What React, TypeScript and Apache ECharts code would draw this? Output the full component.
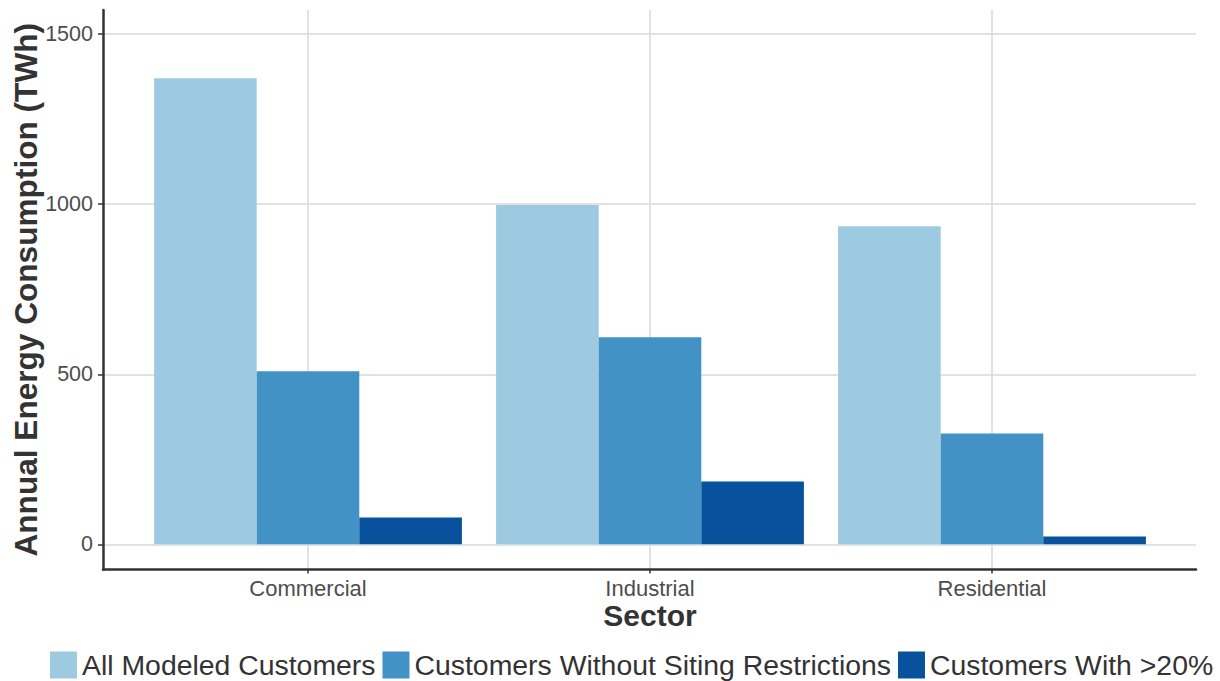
import React, { useEffect, useRef } from "react";
import * as echarts from "echarts";

const categories = ["Commercial", "Industrial", "Residential"];
const seriesNames = [
  "All Modeled Customers",
  "Customers Without Siting Restrictions",
  "Customers With >20%",
];
const allModeled = [1370, 998, 935];
const withoutRestrictions = [509, 609, 326];
const withOver20 = [79, 185, 23];
const yTicks = [0, 500, 1000, 1500];
const colors = ["#9ecae1", "#4292c6", "#08519c"];

const FONT = "'Liberation Sans', Arial, sans-serif";
const Y_MIN = -74;
const Y_MAX = 1571;

export default function App() {
  const ref = useRef<HTMLDivElement>(null);
  useEffect(() => {
    document.body.style.margin = "0";
    const chart = echarts.init(ref.current!, null, { renderer: "svg" });
    const values = [allModeled, withoutRestrictions, withOver20];
    chart.setOption({
      animation: false,
      backgroundColor: "#ffffff",
      textStyle: { fontFamily: FONT },
      grid: [
        { left: 103, right: 24, top: 10, bottom: 111.5, containLabel: false, outerBoundsMode: "none" },
        { left: 137, right: 57, top: 10, bottom: 111.5, containLabel: false, outerBoundsMode: "none" },
      ],
      legend: {
        data: seriesNames,
        left: 50,
        top: 651,
        icon: "rect",
        itemWidth: 27,
        itemHeight: 27,
        itemGap: 7,
        padding: 0,
        textStyle: { fontSize: 28.4, lineHeight: 27, color: "#333333", fontFamily: FONT },
      },
      xAxis: [
        {
          type: "value",
          gridIndex: 0,
          min: 0,
          max: 1,
          axisLine: { show: true, onZero: false, lineStyle: { color: "#333333", width: 2.5 } },
          axisTick: { show: false },
          axisLabel: { show: false },
          splitLine: { show: false },
        },
        {
          type: "category",
          gridIndex: 1,
          data: categories,
          boundaryGap: true,
          name: "Sector",
          nameLocation: "middle",
          nameGap: 31,
          nameMoveOverlap: false,
          nameTextStyle: { fontSize: 30, fontWeight: "bold", color: "#333333", fontFamily: FONT },
          axisLine: { show: false, onZero: false },
          axisTick: { show: true, alignWithLabel: true, length: 4, lineStyle: { color: "#333333", width: 1.5 } },
          axisLabel: { fontSize: 22, color: "#4d4d4d", margin: 8, fontFamily: FONT },
          splitLine: { show: true, alignWithLabel: true, lineStyle: { color: "#d9d9d9", width: 1.5 } },
        },
      ],
      yAxis: [
        {
          type: "value",
          gridIndex: 0,
          min: Y_MIN,
          max: Y_MAX,
          name: "Annual Energy Consumption (TWh)",
          nameLocation: "middle",
          nameGap: 61,
          nameMoveOverlap: false,
          nameTextStyle: { fontSize: 31.6, fontWeight: "bold", color: "#333333", fontFamily: FONT },
          axisLine: { show: true, lineStyle: { color: "#333333", width: 2.5 } },
          axisTick: { show: true, length: 5, customValues: yTicks, lineStyle: { color: "#333333", width: 1.5 } },
          axisLabel: {
            fontSize: 21.5,
            color: "#4d4d4d",
            margin: 10,
            customValues: yTicks,
            fontFamily: FONT,
            formatter: (v: number) => String(v),
          },
          splitLine: { show: true, lineStyle: { color: "#d9d9d9", width: 1.5 } },
        },
        {
          type: "value",
          gridIndex: 1,
          min: Y_MIN,
          max: Y_MAX,
          show: false,
          splitLine: { show: false },
        },
      ],
      series: seriesNames.map((name, i) => ({
        name,
        type: "bar",
        xAxisIndex: 1,
        yAxisIndex: 1,
        data: values[i],
        barWidth: "30%",
        barGap: "0%",
        itemStyle: { color: colors[i] },
      })),
    });
    return () => chart.dispose();
  }, []);
  return <div ref={ref} style={{ width: 1220, height: 681 }} />;
}
